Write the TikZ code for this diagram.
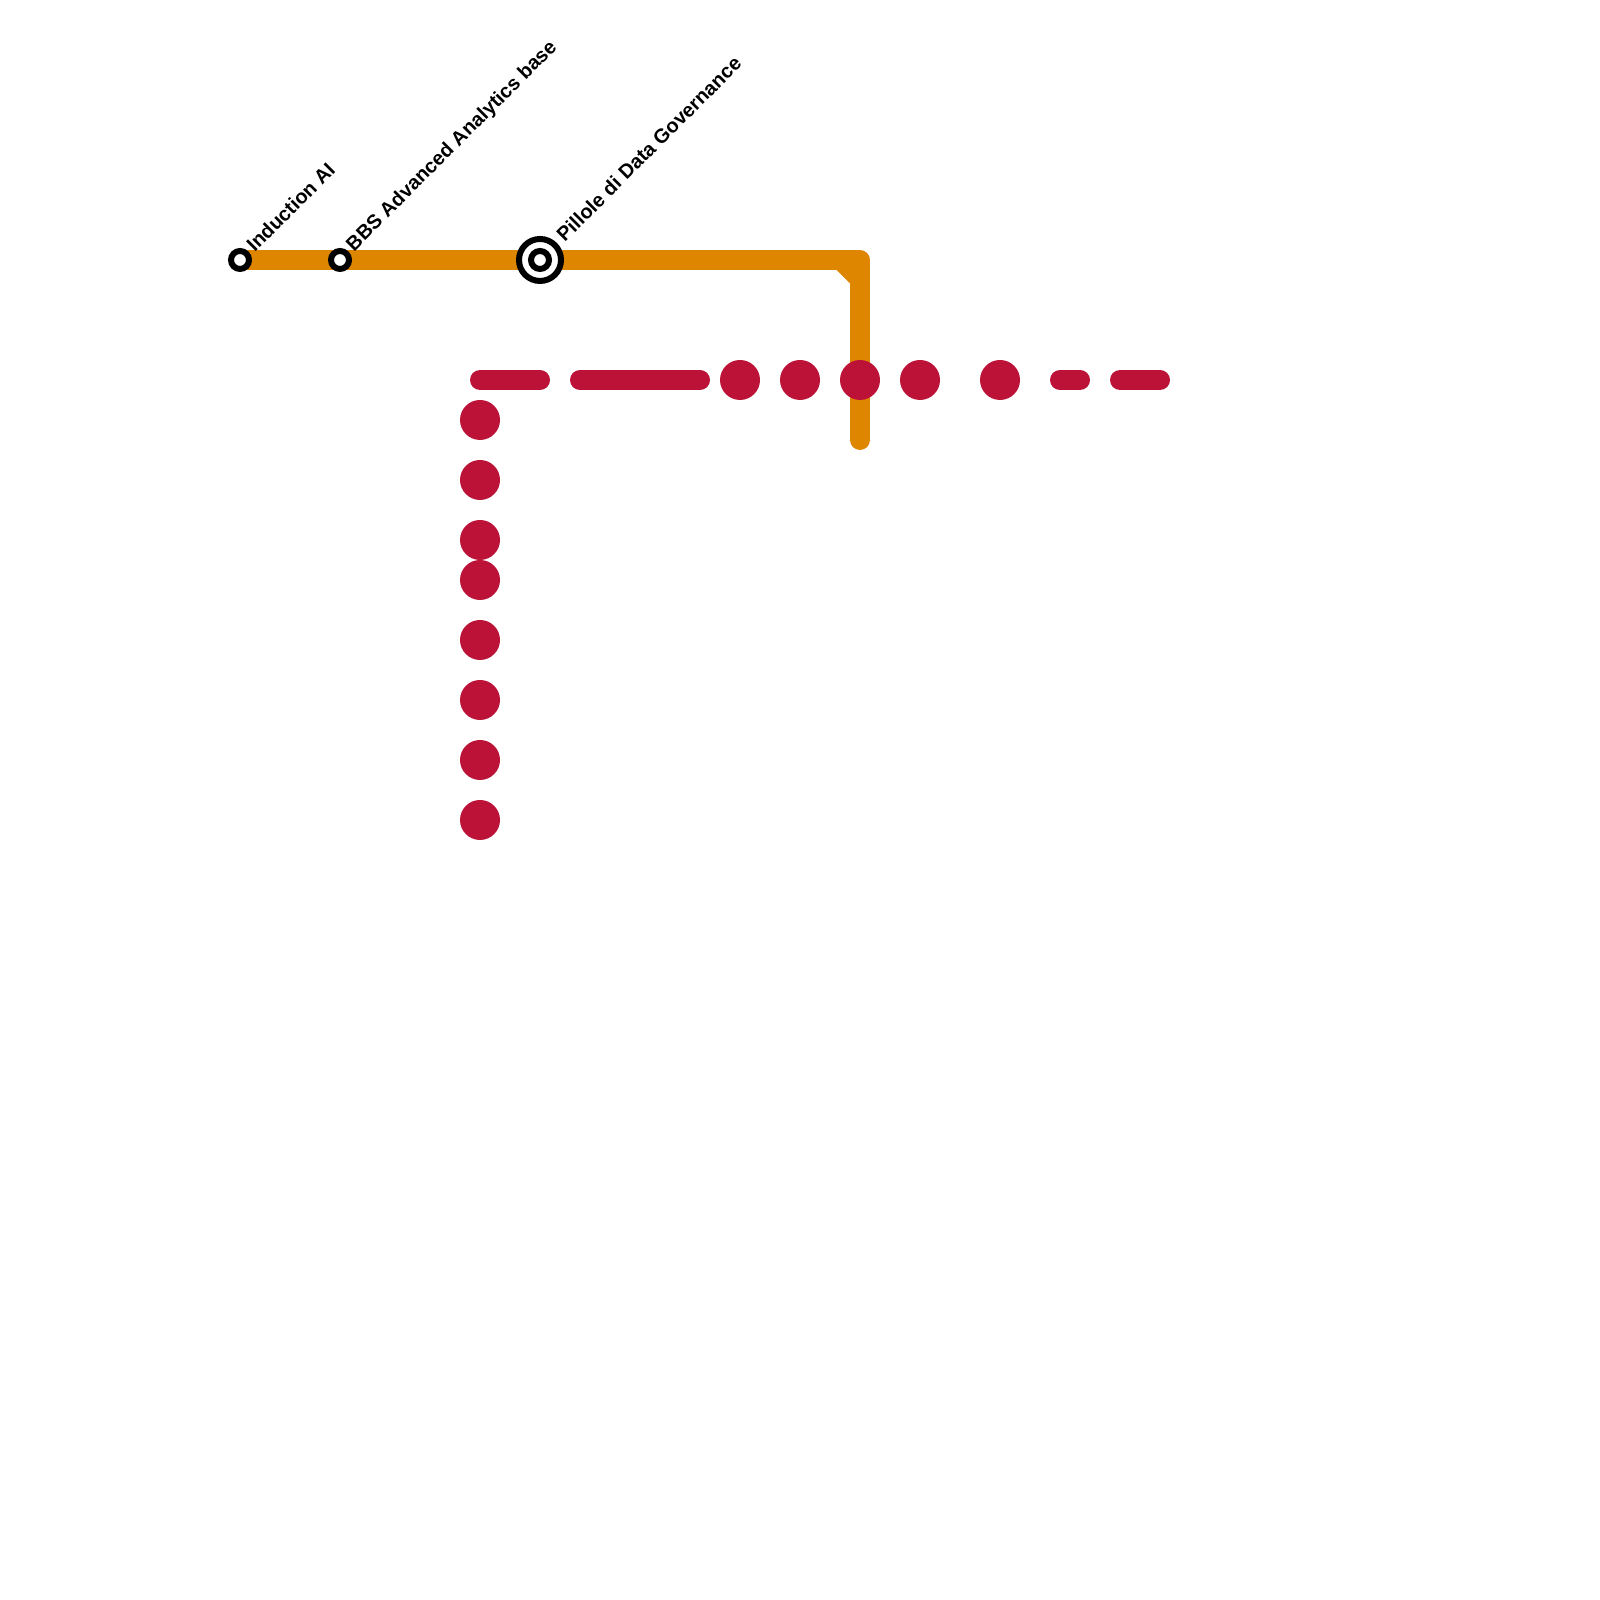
\documentclass[tikz,border=0pt]{standalone}
\usepackage{fontspec}
\setmainfont{Liberation Sans}
\usetikzlibrary{positioning, backgrounds}
\definecolor{lineorange}{HTML}{DF8600}
\definecolor{linered}{HTML}{BC1238}
\tikzset{
	orangeline/.style={draw=lineorange, line width=0.2cm, line cap=round, line join=round},
	redline/.style={draw=linered, line width=0.2cm, line cap=round},
	reddot/.style={circle, fill=linered, minimum size=0.4cm, inner sep=0pt},
	smallstop/.style={circle, draw=black, fill=white, line width=0.06cm, minimum size=0.18cm, inner sep=0pt, outer sep=0pt},
	bigstop/.style={circle, draw=black, fill=white, line width=0.06cm, minimum size=0.42cm, inner sep=0pt, outer sep=0pt},
	stoplabel/.style={rotate=45, anchor=south west, inner sep=0pt, font=\fontsize{5.67pt}{6.8pt}\bfseries}
}
\begin{document}
\begin{tikzpicture}
	\useasboundingbox (0,0) rectangle (16,16);
	
	% Stops on the orange line
	\node[smallstop] (induction) at (2.4,13.4) {};
	\node[smallstop] (bbs) at (3.4,13.4) {};
	\node[bigstop] (pillole) at (5.4,13.4) {};
	\node[smallstop] (pilloleinner) at (5.4,13.4) {};
	
	% Orange line, kept behind the stops
	\coordinate (orangecorner) at (8.6,13.4);
	\coordinate (orangeend) at (8.6,11.6);
	\begin{scope}[on background layer]
		\path[orangeline] (induction.center) -- (orangecorner) -- (orangeend);
		\fill[lineorange] (8.367,13.3) -- (8.5,13.167) -- (8.5,13.3) -- cycle;
	\end{scope}
	
	% Labels
	\node[stoplabel] (inductionlabel) at (2.55,13.46) {Induction AI};
	\node[stoplabel] (bbslabel) at (3.57,13.44) {BBS Advanced Analytics base};
	\node[stoplabel] (pillolelabel) at (5.65,13.56) {Pillole di Data Governance};
	
	% Red line, horizontal part
	\coordinate (dashA) at (4.8,12.2);
	\coordinate (dashB) at (5.4,12.2);
	\coordinate (dashC) at (5.8,12.2);
	\coordinate (dashD) at (7.0,12.2);
	\coordinate (dashE) at (10.6,12.2);
	\coordinate (dashF) at (10.8,12.2);
	\coordinate (dashG) at (11.2,12.2);
	\coordinate (dashH) at (11.6,12.2);
	\draw[redline] (dashA) -- (dashB);
	\draw[redline] (dashC) -- (dashD);
	\draw[redline] (dashE) -- (dashF);
	\draw[redline] (dashG) -- (dashH);
	\foreach \x in {7.4,8.0,8.6,9.2,10.0}
		\node[reddot] (dotx\x) at (\x,12.2) {};
	
	% Red line, vertical part
	\foreach \y in {11.8,11.2,10.6,10.2,9.6,9.0,8.4,7.8}
		\node[reddot] (doty\y) at (4.8,\y) {};
\end{tikzpicture}
\end{document}
